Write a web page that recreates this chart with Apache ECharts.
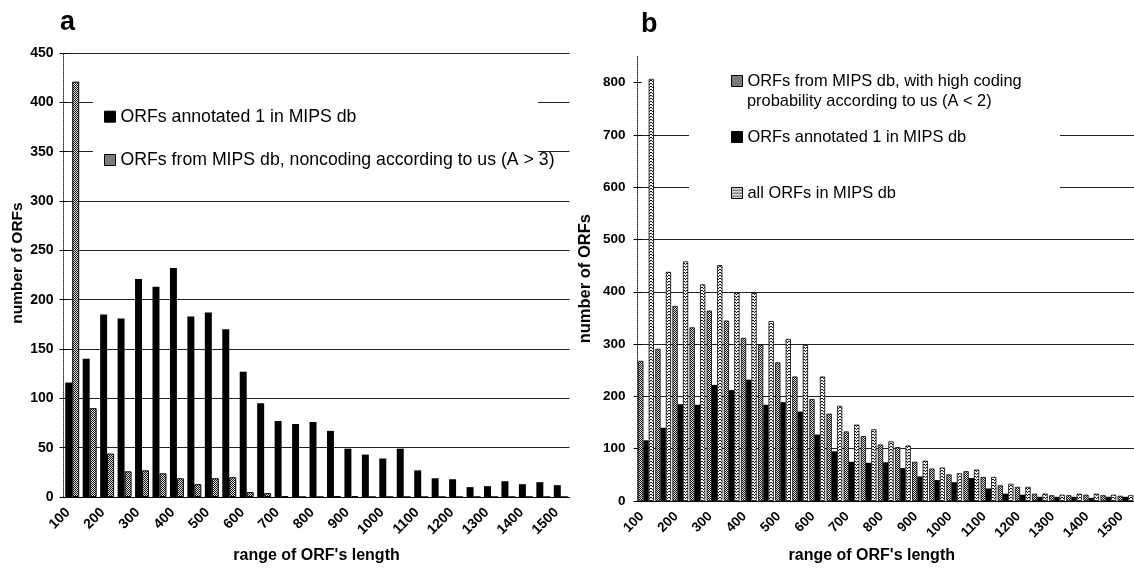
<!DOCTYPE html>
<html>
<head>
<meta charset="utf-8">
<script src="https://cdn.jsdelivr.net/npm/echarts@6/dist/echarts.min.js"></script>
<style>
  html, body { margin: 0; padding: 0; background: #fff; }
  #main { width: 1134px; height: 571px; }
</style>
</head>
<body>
<div id="main"></div>
<script>
// ORF length bins (lower bound of each 50-long range)
const categories = ['100', '150', '200', '250', '300', '350', '400', '450', '500', '550',
  '600', '650', '700', '750', '800', '850', '900', '950', '1000', '1050',
  '1100', '1150', '1200', '1250', '1300', '1350', '1400', '1450', '1500'];

// panel a
const annotatedA = [116, 140, 185, 181, 221, 213, 232, 183, 187, 170, 127, 95, 77, 74, 76,
  67, 49, 43, 39, 49, 27, 19, 18, 10, 11, 16, 13, 15, 12];
const noncodingA = [421, 90, 44, 26, 27, 24, 19, 13, 19, 20, 5, 4, 1, 0, 0,
  1, 1, 0, 0, 0, 0, 0, 0, 0, 0, 0, 0, 0, 0];

// panel b
const codingB = [268, 291, 373, 332, 364, 345, 312, 299, 265, 238, 195, 167, 133, 124, 108,
  103, 75, 62, 51, 57, 46, 30, 27, 14, 11, 11, 12, 11, 10];
const annotatedB = [116, 140, 185, 184, 222, 212, 232, 184, 189, 171, 127, 95, 75, 73, 74,
  63, 47, 40, 36, 44, 24, 14, 12, 8, 8, 8, 6, 8, 8];
const allOrfsB = [807, 438, 458, 414, 451, 399, 398, 344, 310, 298, 238, 182, 146, 137, 114,
  106, 77, 64, 53, 60, 46, 33, 27, 14, 12, 14, 14, 12, 11];

const yTicksB = [0, 100, 200, 300, 400, 500, 600, 700, 800];

const NAME_ANNOT = 'ORFs annotated 1 in MIPS db';
const NAME_NONCOD = 'ORFs from MIPS db, noncoding according to us (A > 3)';
const NAME_CODING = 'ORFs from MIPS db, with high coding probability according to us (A < 2)';
const NAME_ALL = 'all ORFs in MIPS db';

const FONT = '"Liberation Sans", Arial, sans-serif';

// little bitmap tiles for the hatched fills
function tile(w, h, bg, dots) {
  const c = document.createElement('canvas');
  c.width = w; c.height = h;
  const ctx = c.getContext('2d');
  ctx.fillStyle = bg;
  ctx.fillRect(0, 0, w, h);
  ctx.fillStyle = '#111';
  dots.forEach(d => ctx.fillRect(d[0], d[1], 1, 1));
  return c;
}
const grayHatch = { image: tile(2, 2, '#e6e6e6', [[0, 0], [1, 1]]), repeat: 'repeat' };
const whiteDots = { image: tile(3, 3, '#ffffff', [[1, 0], [0, 2], [2, 2]]), repeat: 'repeat' };

function labelStyle(size) {
  return { color: '#000', fontFamily: FONT, fontWeight: 'bold', fontSize: size };
}

function xAxisFor(gridIndex, nameGap, namePad, size) {
  return {
    type: 'category',
    gridIndex: gridIndex,
    data: categories,
    axisLine: { lineStyle: { color: '#000', width: 1 } },
    axisTick: { interval: 0, length: 5, lineStyle: { color: '#000' } },
    axisLabel: Object.assign({ interval: 1, rotate: 45, margin: 9, padding: [0, 6, 0, 0] }, labelStyle(size)),
    name: "range of ORF's length",
    nameLocation: 'middle',
    nameGap: nameGap,
    nameTextStyle: { color: '#000', fontFamily: FONT, fontWeight: 'bold', fontSize: 16, padding: namePad }
  };
}

const chart = echarts.init(document.getElementById('main'));

const option = {
  animation: false,
  backgroundColor: '#fff',
  grid: [
    { left: 63.5, top: 53, width: 506, height: 444 },
    { left: 637.5, top: 56.4, width: 505, height: 444.6 }
  ],
  xAxis: [xAxisFor(0, 51, [0, 0, 0, 0], 14), xAxisFor(1, 47, [0, 28, 0, 0], 13.5)],
  yAxis: [
    {
      type: 'value', gridIndex: 0, min: 0, max: 450, interval: 50,
      axisLine: { show: true, lineStyle: { color: '#333', type: 'dotted' } },
      axisTick: { show: true, length: 4, lineStyle: { color: '#000' } },
      axisLabel: Object.assign({ margin: 10 }, labelStyle(14)),
      splitLine: { lineStyle: { color: '#222', width: 1 } },
      name: 'number of ORFs',
      nameLocation: 'middle',
      nameGap: 38,
      nameTextStyle: { color: '#000', fontFamily: FONT, fontWeight: 'bold', fontSize: 15.5, padding: [0, 0, 0, 24] }
    },
    {
      // inner half of the crossing ticks
      type: 'value', gridIndex: 0, min: 0, max: 450, interval: 50, position: 'left',
      axisLine: { show: false },
      axisTick: { show: true, inside: true, length: 4, lineStyle: { color: '#000' } },
      axisLabel: { show: false },
      splitLine: { show: false }
    },
    {
      type: 'value', gridIndex: 1, min: 0, max: 850, interval: 100,
      axisLine: { show: true, lineStyle: { color: '#222', type: 'dotted' } },
      axisTick: { show: true, length: 4, customValues: yTicksB, lineStyle: { color: '#000' } },
      axisLabel: Object.assign({
        margin: 12,
        formatter: v => (v > 800 ? '' : String(v))
      }, labelStyle(13.5)),
      splitLine: { showMaxLine: false, lineStyle: { color: '#222', width: 1 } },
      name: 'number of ORFs',
      nameLocation: 'middle',
      nameGap: 44,
      nameTextStyle: { color: '#000', fontFamily: FONT, fontWeight: 'bold', fontSize: 16.5 }
    },
    {
      type: 'value', gridIndex: 1, min: 0, max: 850, interval: 100, position: 'left',
      axisLine: { show: false },
      axisTick: { show: true, inside: true, length: 4, customValues: yTicksB, lineStyle: { color: '#000' } },
      axisLabel: { show: false },
      splitLine: { show: false }
    }
  ],
  legend: [
    {
      data: [NAME_ANNOT, NAME_NONCOD],
      orient: 'vertical',
      left: 104, top: 106.7,
      padding: 0,
      itemGap: 23.3,
      itemWidth: 11, itemHeight: 11,
      icon: 'rect',
      selectedMode: false,
      itemStyle: { borderColor: '#000', borderWidth: 1 },
      textStyle: { color: '#000', fontFamily: FONT, fontSize: 17.7, lineHeight: 20 }
    },
    {
      data: [NAME_CODING, NAME_ANNOT, NAME_ALL],
      orient: 'vertical',
      left: 731, top: 71,
      padding: 0,
      itemGap: 36,
      itemWidth: 11, itemHeight: 11,
      icon: 'rect',
      selectedMode: false,
      itemStyle: { borderColor: '#000', borderWidth: 1 },
      formatter: name => (name === NAME_CODING ? 'ORFs from MIPS db, with high coding' : name),
      textStyle: { color: '#000', fontFamily: FONT, fontSize: 16.4, lineHeight: 20 }
    }
  ],
  graphic: [
    // white legend boxes that hide the grid lines behind them
    { type: 'rect', z: 1, silent: true, shape: { x: 93, y: 62, width: 445, height: 126 }, style: { fill: '#fff' } },
    { type: 'rect', z: 1, silent: true, shape: { x: 689, y: 62, width: 371, height: 150 }, style: { fill: '#fff' } },
    { type: 'text', z: 5, x: 747, y: 101, style: { text: 'probability according to us (A < 2)', fill: '#000', fontFamily: FONT, fontSize: 16.4, verticalAlign: 'middle' } },
    { type: 'text', z: 5, x: 60, y: 23, style: { text: 'a', fill: '#000', fontFamily: FONT, fontWeight: 'bold', fontSize: 27, verticalAlign: 'middle' } },
    { type: 'text', z: 5, x: 641, y: 25, style: { text: 'b', fill: '#000', fontFamily: FONT, fontWeight: 'bold', fontSize: 27, verticalAlign: 'middle' } }
  ],
  series: [
    {
      name: NAME_ANNOT, type: 'bar', xAxisIndex: 0, yAxisIndex: 0,
      data: annotatedA, barGap: '0%', barCategoryGap: '20%',
      itemStyle: { color: '#000' }
    },
    {
      name: NAME_NONCOD, type: 'bar', xAxisIndex: 0, yAxisIndex: 0,
      data: noncodingA, barGap: '0%', barCategoryGap: '20%',
      itemStyle: { color: grayHatch, borderColor: '#000', borderWidth: 1 }
    },
    {
      name: NAME_CODING, type: 'bar', xAxisIndex: 1, yAxisIndex: 2,
      data: codingB, barGap: '0%', barCategoryGap: '8%',
      itemStyle: { color: grayHatch, borderColor: '#000', borderWidth: 0.8 }
    },
    {
      name: NAME_ANNOT, type: 'bar', xAxisIndex: 1, yAxisIndex: 2,
      data: annotatedB, barGap: '0%', barCategoryGap: '8%',
      itemStyle: { color: '#000' }
    },
    {
      name: NAME_ALL, type: 'bar', xAxisIndex: 1, yAxisIndex: 2,
      data: allOrfsB, barGap: '0%', barCategoryGap: '8%',
      itemStyle: { color: whiteDots, borderColor: '#000', borderWidth: 0.8 }
    }
  ]
};

chart.setOption(option);
</script>
</body>
</html>
